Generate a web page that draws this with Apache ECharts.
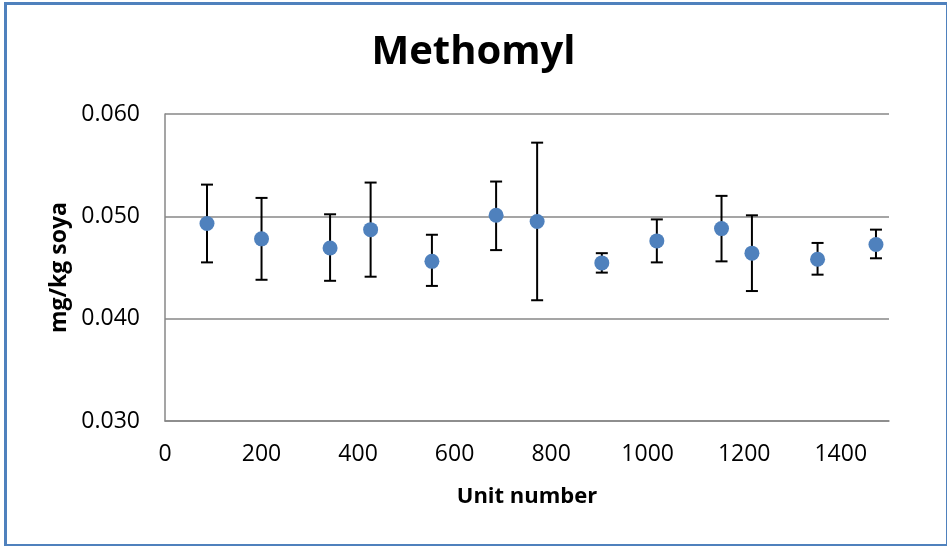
<!DOCTYPE html>
<html>
<head>
<meta charset="utf-8">
<script src="https://cdn.jsdelivr.net/npm/echarts@6/dist/echarts.min.js"></script>
<style>
  html, body { margin: 0; padding: 0; background: #fff; }
  #wrap {
    position: absolute; left: 4px; top: 2px;
    width: 939px; height: 539px;
    border: 3px solid #4f81bd;
  }
  #chart { position: absolute; left: -7px; top: -5px; width: 947px; height: 546px; }
</style>
</head>
<body>
<div id="wrap"><div id="chart"></div></div>
<script>
// unit numbers and means (mg/kg soya), with error bar ends
var unitNumber = [87, 200, 342, 426, 553, 686, 771, 905, 1019, 1153, 1216, 1352, 1473];
var mean = [0.0493, 0.0478, 0.0469, 0.0487, 0.0456, 0.0501, 0.0495, 0.04545, 0.0476, 0.0488, 0.0464, 0.0458, 0.04725];
var upper = [0.0531, 0.0518, 0.0502, 0.0533, 0.0482, 0.0534, 0.0572, 0.0464, 0.0497, 0.0520, 0.0501, 0.0474, 0.0487];
var lower = [0.0455, 0.0438, 0.0437, 0.0441, 0.0432, 0.0467, 0.0418, 0.0445, 0.0455, 0.0456, 0.0427, 0.0443, 0.0459];

var points = unitNumber.map(function (u, i) { return [u, mean[i]]; });
var bars = unitNumber.map(function (u, i) { return [u, lower[i], upper[i]]; });

var chart = echarts.init(document.getElementById("chart"));
chart.setOption({
  animation: false,
  backgroundColor: "transparent",
  title: {
    text: "Methomyl",
    left: "center",
    top: 28,
    textStyle: {
      fontFamily: "Open Sans",
      fontWeight: "bold",
      fontSize: 40,
      color: "#000"
    }
  },
  grid: {
    left: 165,
    right: 58,
    top: 114,
    bottom: 125
  },
  xAxis: {
    type: "value",
    min: 0,
    max: 1500,
    interval: 200,
    name: "Unit number",
    nameLocation: "middle",
    nameGap: 65,
    nameTextStyle: {
      fontFamily: "Open Sans",
      fontWeight: "bold",
      fontSize: 22,
      color: "#000"
    },
    axisLine: { lineStyle: { color: "#878787", width: 1.5 } },
    axisTick: { show: false },
    splitLine: { show: false },
    axisLabel: {
      showMaxLabel: false,
      margin: 22,
      fontFamily: "Open Sans",
      fontSize: 23,
      color: "#000",
      formatter: function (v) { return String(v); }
    }
  },
  yAxis: {
    type: "value",
    min: 0.03,
    max: 0.06,
    interval: 0.01,
    name: "mg/kg soya",
    nameLocation: "middle",
    nameGap: 90,
    nameTextStyle: {
      fontFamily: "Open Sans",
      fontWeight: "bold",
      fontSize: 23,
      color: "#000"
    },
    axisLine: { show: true, lineStyle: { color: "#878787", width: 1.5 } },
    axisTick: { show: false },
    splitLine: { lineStyle: { color: "#878787", width: 1.5 } },
    axisLabel: {
      margin: 25,
      fontFamily: "Open Sans",
      fontSize: 23,
      color: "#000",
      formatter: function (v) { return v.toFixed(3); }
    }
  },
  series: [
    {
      type: "custom",
      data: bars,
      z: 2,
      renderItem: function (params, api) {
        var top = api.coord([api.value(0), api.value(2)]);
        var bot = api.coord([api.value(0), api.value(1)]);
        var w = 6;
        var style = { stroke: "#000", lineWidth: 2 };
        return {
          type: "group",
          children: [
            { type: "line", shape: { x1: top[0], y1: top[1], x2: bot[0], y2: bot[1] }, style: style },
            { type: "line", shape: { x1: top[0] - w, y1: top[1], x2: top[0] + w, y2: top[1] }, style: style },
            { type: "line", shape: { x1: bot[0] - w, y1: bot[1], x2: bot[0] + w, y2: bot[1] }, style: style }
          ]
        };
      }
    },
    {
      type: "scatter",
      data: points,
      z: 3,
      symbol: "circle",
      symbolSize: 15,
      itemStyle: { color: "#4f81bd", opacity: 1 }
    }
  ]
});
</script>
</body>
</html>
